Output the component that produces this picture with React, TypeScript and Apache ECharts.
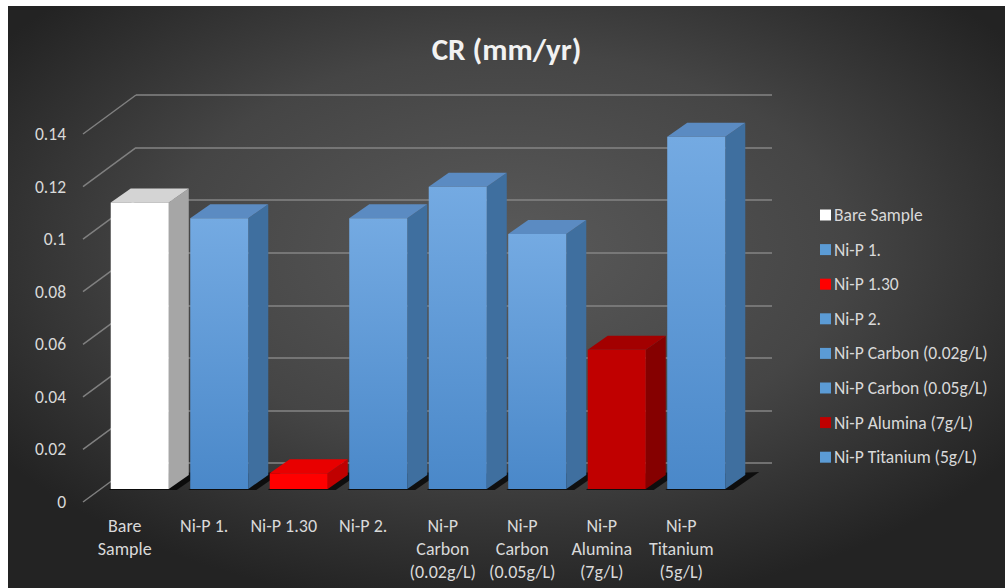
import React, { useEffect, useRef } from "react";
import * as echarts from "echarts";

// Corrosion rate per coating (mm/yr)
const categories = [
  "Bare Sample",
  "Ni-P 1.",
  "Ni-P 1.30",
  "Ni-P 2.",
  "Ni-P Carbon (0.02g/L)",
  "Ni-P Carbon (0.05g/L)",
  "Ni-P Alumina (7g/L)",
  "Ni-P Titanium (5g/L)",
];
const axisLabels = [
  "Bare\nSample",
  "Ni-P 1.",
  "Ni-P 1.30",
  "Ni-P 2.",
  "Ni-P\nCarbon\n(0.02g/L)",
  "Ni-P\nCarbon\n(0.05g/L)",
  "Ni-P\nAlumina\n(7g/L)",
  "Ni-P\nTitanium\n(5g/L)",
];
const crValues = [0.109, 0.103, 0.006, 0.103, 0.115, 0.097, 0.053, 0.134];
const yTicks = [0, 0.02, 0.04, 0.06, 0.08, 0.1, 0.12, 0.14];

// face colours: [front top, front bottom, side, top]
const WHITE = ["#ffffff", "#ffffff", "#a6a6a6", "#d4d4d4"];
const BLUE = ["#74aae2", "#4a88c9", "#3f6f9f", "#5b8bc2"];
const RED = ["#ff0000", "#ff0000", "#c00000", "#e80000"];
const DARK_RED = ["#c00000", "#c00000", "#850000", "#a30000"];
const faceColors = [WHITE, BLUE, RED, BLUE, BLUE, BLUE, DARK_RED, BLUE];
const legendColors = ["#ffffff", "#5b9bd5", "#ff0000", "#5b9bd5", "#5b9bd5", "#5b9bd5", "#c00000", "#5b9bd5"];

const FONT = "Carlito, Lato, 'Noto Sans', sans-serif";
const TEXT = "#d9d9d9";

// oblique projection of the chart depth
const WALL_DX = 51;
const WALL_DY = -39;
const BAR_FX = 15; // front face of a bar, measured back from the floor edge
const BAR_FY = -13;
const BAR_DX = 20; // bar depth
const BAR_DY = -14;

const GRID_LEFT = 77;
const GRID_TOP = 128;
const GRID_W = 636;
const GRID_H = 368;

function makeRenderBar(faces: string[]) {
  return (params: any, api: any) => {
    const idx = api.value(0);
    const v = api.value(1);
    const base = api.coord([idx, 0]);
    const top = api.coord([idx, v]);
    const band = api.size([1, 0])[0];
    const w = band * 0.73;
    const xL = base[0] - w / 2 + BAR_FX;
    const xR = xL + w;
    const yB = base[1] + BAR_FY;
    const yT = top[1] + BAR_FY;
    return {
      type: "group",
      children: [
        {
          type: "polygon",
          shape: {
            points: [
              [xL - 2, yB + 1],
              [xR + 8, yB + 1],
              [xR + BAR_DX + 14, yB + BAR_DY - 3],
              [xL + BAR_DX, yB + BAR_DY],
            ],
          },
          style: { fill: "rgba(0,0,0,0.75)" },
        },
        {
          type: "polygon",
          shape: {
            points: [
              [xR, yT],
              [xR + BAR_DX, yT + BAR_DY],
              [xR + BAR_DX, yB + BAR_DY],
              [xR, yB],
            ],
          },
          style: { fill: faces[2] },
        },
        {
          type: "polygon",
          shape: {
            points: [
              [xL, yT],
              [xR, yT],
              [xR + BAR_DX, yT + BAR_DY],
              [xL + BAR_DX, yT + BAR_DY],
            ],
          },
          style: { fill: faces[3] },
        },
        {
          type: "rect",
          shape: { x: xL, y: yT, width: w, height: yB - yT },
          style: {
            fill: new echarts.graphic.LinearGradient(0, 0, 0, 1, [
              { offset: 0, color: faces[0] },
              { offset: 1, color: faces[1] },
            ]),
          },
        },
      ],
    };
  };
}

function renderSideLine(params: any, api: any) {
  const v = api.value(0);
  const p = api.coord([0, v]);
  const x0 = params.coordSys.x - 2;
  return {
    type: "line",
    shape: { x1: x0, y1: p[1], x2: x0 + WALL_DX + 2, y2: p[1] + WALL_DY },
    style: { stroke: "#808080", lineWidth: 1.5 },
  };
}

export default function App() {
  const ref = useRef<HTMLDivElement>(null);

  useEffect(() => {
    if (!ref.current) return;
    const chart = echarts.init(ref.current, null, { renderer: "svg" });

    const barSeries = categories.map((name, i) => ({
      name,
      type: "custom",
      xAxisIndex: 0,
      yAxisIndex: 0,
      z: 10 + i,
      itemStyle: { color: legendColors[i] },
      renderItem: makeRenderBar(faceColors[i]),
      data: [[i, crValues[i]]],
    }));

    chart.setOption({
      animation: false,
      backgroundColor: new echarts.graphic.RadialGradient(0.5, 0.42, 0.62, [
        { offset: 0, color: "#5a5a5a" },
        { offset: 0.55, color: "#454545" },
        { offset: 1, color: "#232323" },
      ]),
      title: {
        text: "CR (mm/yr)",
        left: "center",
        top: 22,
        textStyle: { color: "#f2f2f2", fontSize: 31, fontWeight: "bold", fontFamily: FONT },
      },
      legend: {
        orient: "vertical",
        left: 807,
        top: 195,
        icon: "rect",
        itemWidth: 11,
        itemHeight: 11,
        itemGap: 16.6,
        data: categories,
        textStyle: { color: TEXT, fontSize: 17.5, lineHeight: 18, fontFamily: FONT, padding: [0, 0, 0, -2] },
      },
      grid: [
        { left: GRID_LEFT, top: GRID_TOP, width: GRID_W, height: GRID_H },
        { left: GRID_LEFT + WALL_DX, top: GRID_TOP + WALL_DY, width: GRID_W, height: GRID_H },
      ],
      xAxis: [
        {
          type: "category",
          gridIndex: 0,
          data: categories,
          axisLine: { show: false },
          axisTick: { show: false },
          axisLabel: {
            color: TEXT,
            fontSize: 18,
            lineHeight: 23,
            margin: 12,
            interval: 0,
            fontFamily: FONT,
            formatter: (_: string, i: number) => axisLabels[i],
          },
        },
        {
          type: "category",
          gridIndex: 1,
          data: categories,
          show: false,
        },
      ],
      yAxis: [
        {
          type: "value",
          gridIndex: 0,
          min: 0,
          max: 0.14,
          interval: 0.02,
          axisLine: { show: false },
          axisTick: { show: false },
          splitLine: { show: false },
          axisLabel: { color: TEXT, fontSize: 17.5, margin: 19, fontFamily: FONT },
        },
        {
          type: "value",
          gridIndex: 1,
          min: 0,
          max: 0.14,
          interval: 0.02,
          axisLine: { show: false },
          axisTick: { show: false },
          axisLabel: { show: false },
          splitLine: { show: true, lineStyle: { color: "#858585", width: 1.6 } },
        },
      ],
      series: [
        {
          name: "wall-edge",
          type: "custom",
          xAxisIndex: 0,
          yAxisIndex: 0,
          z: 2,
          silent: true,
          renderItem: renderSideLine,
          data: yTicks.map((t) => [t]),
          encode: { y: 0 },
        },
        ...barSeries,
      ],
    });

    return () => chart.dispose();
  }, []);

  return (
    <div
      ref={ref}
      style={{ position: "absolute", left: 8, top: 6, width: 997, height: 582 }}
    />
  );
}
